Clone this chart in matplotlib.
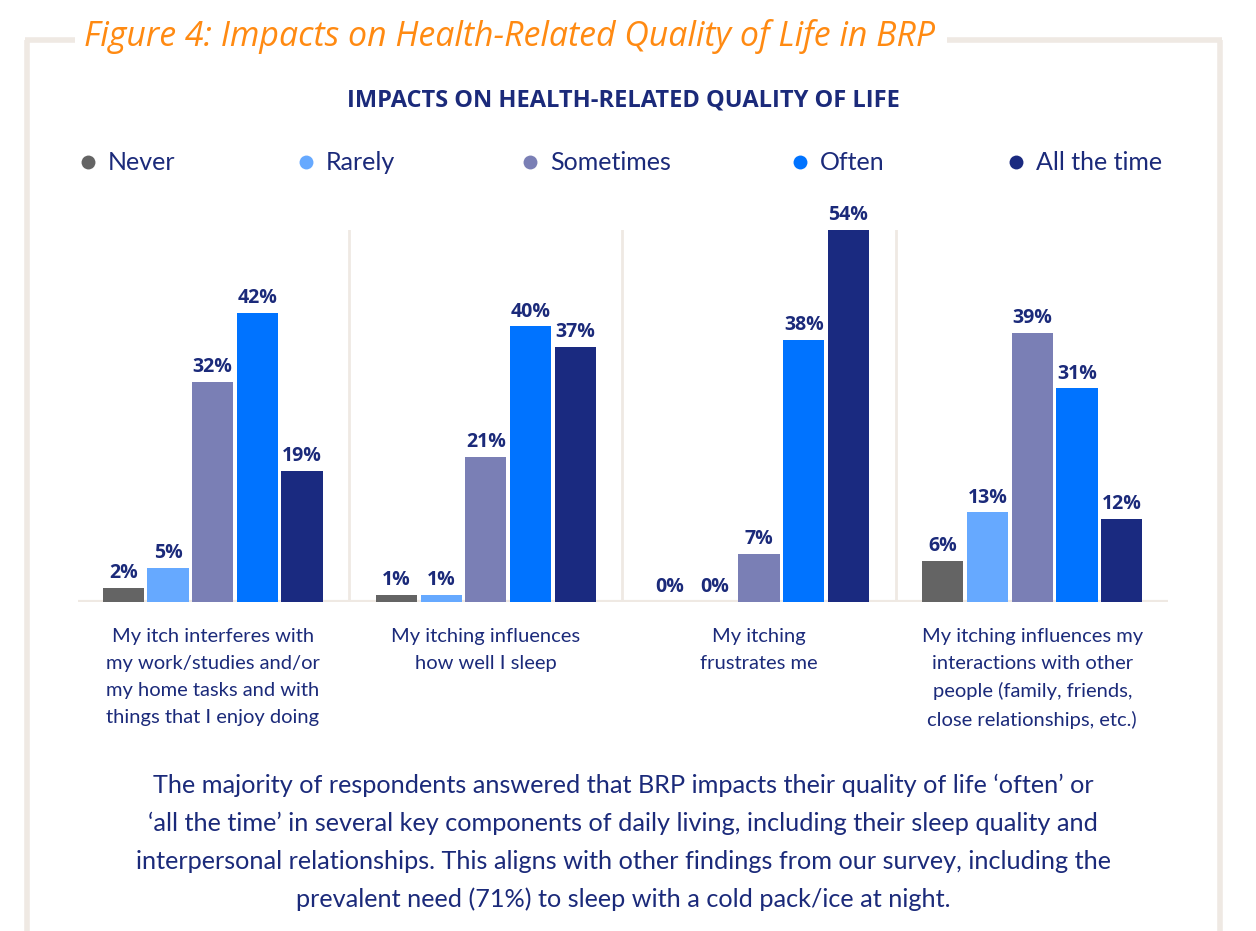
import matplotlib
matplotlib.use("Agg")
import matplotlib.pyplot as plt
import numpy as np

categories = [
    "My itch interferes with\nmy work/studies and/or\nmy home tasks and with\nthings that I enjoy doing",
    "My itching influences\nhow well I sleep",
    "My itching\nfrustrates me",
    "My itching influences my\ninteractions with other\npeople (family, friends,\nclose relationships, etc.)",
]
series_names = ["Never", "Rarely", "Sometimes", "Often", "All the time"]
values = {
    "Never":        [2, 1, 0, 6],
    "Rarely":       [5, 1, 0, 13],
    "Sometimes":    [32, 21, 7, 39],
    "Often":        [42, 40, 38, 31],
    "All the time": [19, 37, 54, 12],
}
colors = ["#646464", "#66a9ff", "#7a7fb5", "#0073ff", "#1a2a80"]

title = "Figure 4: Impacts on Health-Related Quality of Life in BRP"
chart_title = "IMPACTS ON HEALTH-RELATED QUALITY OF LIFE"
footer = ("The majority of respondents answered that BRP impacts their quality of life \u2018often\u2019 or\n"
          "\u2018all the time\u2019 in several key components of daily living, including their sleep quality and\n"
          "interpersonal relationships. This aligns with other findings from our survey, including the\n"
          "prevalent need (71%) to sleep with a cold pack/ice at night.")

NAVY = "#1b2a7a"
ORANGE = "#ff8a12"
FRAME = "#efe9e3"
FONT = "Lato"

W, H = 1256, 931
fig = plt.figure(figsize=(W / 100, H / 100), dpi=100)
fig.patch.set_facecolor("white")

# overlay axes in pixel coordinates for frame / legend
ov = fig.add_axes([0, 0, 1, 1])
ov.set_xlim(0, W)
ov.set_ylim(H, 0)
ov.axis("off")
ov.plot([27, 27], [40, H + 5], color=FRAME, lw=4, solid_capstyle="butt")
ov.plot([1220, 1220], [40, H + 5], color=FRAME, lw=4, solid_capstyle="butt")
ov.plot([25, 75], [40, 40], color=FRAME, lw=4, solid_capstyle="butt")
ov.plot([947, 1222], [40, 40], color=FRAME, lw=4, solid_capstyle="butt")

ov.text(84, 37, title, color=ORANGE, fontsize=24.4, fontstyle="italic",
        fontweight="medium", family="Open Sans", ha="left", va="center")
ov.text(623, 100, chart_title, color=NAVY, fontsize=17, fontweight="bold",
        family="Open Sans", ha="center", va="center")

leg_marker_x = [88, 306, 530, 800, 1016]
for name, c, mx in zip(series_names, colors, leg_marker_x):
    ov.plot([mx], [162], marker="o", ms=10, color=c, mec="none")
    ov.text(mx + 20, 163, name, color=NAVY, fontsize=18, family=FONT,
            ha="left", va="center")

# main bar axes
L, R, B, T = 78, 1168, 602, 230
ax = fig.add_axes([L / W, 1 - B / H, (R - L) / W, (B - T) / H])
ax.set_xlim(-0.493, 3.497)
ax.set_ylim(0, 54)
ax.axis("off")

n = len(categories)
x = np.arange(n)
step = 0.1637
bw = 0.151
for i, name in enumerate(series_names):
    off = (i - 2) * step
    vals = values[name]
    ax.bar(x + off, vals, width=bw, color=colors[i], zorder=3)
    for xi, v in zip(x + off, vals):
        ax.annotate(f"{v}%", (xi, v), xytext=(0, 3.5), textcoords="offset points",
                    ha="center", va="bottom", color=NAVY, fontsize=14,
                    fontweight="bold", family="Open Sans", clip_on=False)

for s in [0.5, 1.5, 2.5]:
    ax.axvline(s, color=FRAME, lw=2, zorder=1)
ax.axhline(0, color=FRAME, lw=3, zorder=2)

for xi, cat in zip(x, categories):
    ax.annotate(cat, (xi, 0), xytext=(0, -18.5), textcoords="offset points",
                ha="center", va="top", color=NAVY, fontsize=14.5,
                family=FONT, linespacing=1.71, annotation_clip=False)

ov.text(623, 842.5, footer, color=NAVY, fontsize=18.2, family=FONT,
        ha="center", va="center", linespacing=1.75)

fig.savefig("out.png", dpi=100, facecolor="white")
